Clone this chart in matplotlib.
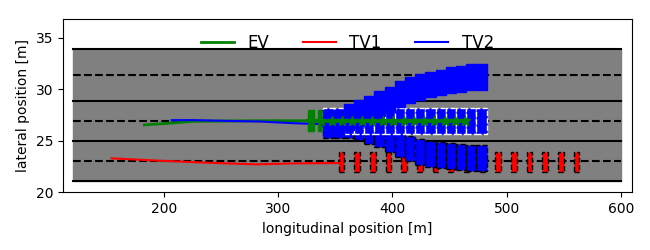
import numpy as np
import matplotlib
matplotlib.use('Agg')
import matplotlib.pyplot as plt
from matplotlib.patches import Rectangle

# road geometry [m]
road_x = [120, 600]
lane_bounds = [21.13, 24.97, 28.86, 33.9]
lane_centers = [23.06, 26.92, 31.38]

# EV: history and planned positions
ev_hist_x = [182.8, 205.0, 225.0, 260.0, 300.0, 328.6]
ev_hist_y = [26.53, 26.70, 26.88, 26.92, 26.94, 26.93]
ev_pred_x = [328.6, 337.5, 346.7, 355.5, 364.2, 373.0, 381.7, 391.3,
             400.6, 409.7, 418.7, 427.4, 436.5, 445.8, 454.8, 463.9]
ev_pred_y = [26.93] * 16

# TV1: history and predicted positions
tv1_hist_x = [154.2, 196.5, 240.0, 281.0, 313.0, 355.5]
tv1_hist_y = [23.29, 23.06, 22.86, 22.71, 22.80, 22.84]
tv1_pred_x = [355.5, 369.2, 382.9, 396.6, 410.3, 424.0, 437.7, 451.4,
              465.1, 478.8, 492.5, 506.2, 519.9, 533.6, 547.3, 561.0]
tv1_pred_y = [22.95] * 16

# TV2: history and three predicted modes (occupancy boxes)
tv2_hist_x = [206.7, 225.0, 255.0, 284.0, 313.0, 339.4]
tv2_hist_y = [26.99, 27.00, 26.92, 26.86, 26.70, 26.60]
tv2_pred_x = [344.0, 352.9, 361.9, 370.8, 379.7, 388.7, 397.6, 406.5,
              415.4, 424.4, 433.3, 442.2, 451.2, 460.1, 469.0, 477.9]
tv2_left_y = [26.70, 26.70, 27.30, 27.65, 28.05, 28.60, 29.00, 29.50,
              29.90, 30.20, 30.45, 30.65, 30.85, 30.95, 31.15, 31.20]
tv2_keep_y = [26.92] * 16
tv2_right_y = [26.55, 26.55, 26.55, 26.35, 25.95, 25.62, 25.15, 24.65,
               24.25, 23.87, 23.68, 23.61, 23.51, 23.42, 23.29, 23.29]

veh_len, veh_wid = 5.0, 2.0
box_len, box_wid = 8.93, 2.5

fig, ax = plt.subplots(figsize=(6.5, 2.5), dpi=100)
fig.subplots_adjust(left=0.0965, right=0.9728, bottom=0.2308, top=0.924)

# --- road ---
ax.fill_between(road_x, lane_bounds[0], lane_bounds[-1], color='grey', zorder=0)
for yb in lane_bounds:
    ax.plot(road_x, [yb, yb], 'k-', lw=1.5, zorder=1)
for yc in lane_centers:
    ax.plot(road_x, [yc, yc], 'k--', lw=1.5, zorder=1)

# --- vehicle footprints ---
for x, y in zip(ev_pred_x, ev_pred_y):
    ax.add_patch(Rectangle((x - veh_len / 2, y - veh_wid / 2), veh_len, veh_wid,
                           facecolor='g', edgecolor='g', lw=1, zorder=2))
for x, y in zip(tv1_pred_x, tv1_pred_y):
    ax.add_patch(Rectangle((x - veh_len / 2, y - veh_wid / 2), veh_len, veh_wid,
                           facecolor='r', edgecolor='k', ls='--', lw=1, zorder=2))

# TV1 history
ax.plot(tv1_hist_x, tv1_hist_y, 'r-', lw=1.5, zorder=3, label='TV1')

# --- TV2 occupancy predictions ---
for x, y in zip(tv2_pred_x, tv2_right_y):
    ax.add_patch(Rectangle((x - box_len / 2, y - box_wid / 2), box_len, box_wid,
                           facecolor='b', edgecolor='k', ls='--', lw=1, zorder=4))
for x, y in zip(tv2_pred_x, tv2_keep_y):
    ax.add_patch(Rectangle((x - box_len / 2, y - box_wid / 2), box_len, box_wid,
                           facecolor='b', edgecolor='w', ls='--', lw=1, zorder=5))
for x, y in zip(tv2_pred_x, tv2_left_y):
    ax.add_patch(Rectangle((x - box_len / 2, y - box_wid / 2), box_len, box_wid,
                           facecolor='b', edgecolor='b', lw=1, zorder=6))

# --- trajectories ---
ax.plot(ev_hist_x, ev_hist_y, 'g-', lw=2, zorder=3, label='EV')
ax.plot(tv2_hist_x, tv2_hist_y, 'b-', lw=1.5, zorder=3.5, label='TV2')
ax.plot(ev_pred_x, ev_pred_y, 'g-*', lw=2, ms=7, zorder=7)

ax.set_xlim(111.4, 609.9)
ax.set_ylim(20, 36.8)
ax.set_xlabel('longitudinal position [m]')
ax.set_ylabel('lateral position [m]')

handles, labels = ax.get_legend_handles_labels()
order = [labels.index(l) for l in ['EV', 'TV1', 'TV2']]
ax.legend([handles[i] for i in order], [labels[i] for i in order],
          loc='upper center', ncol=3, frameon=False, fontsize=12)

plt.savefig('out.png', dpi=100)
plt.close()
